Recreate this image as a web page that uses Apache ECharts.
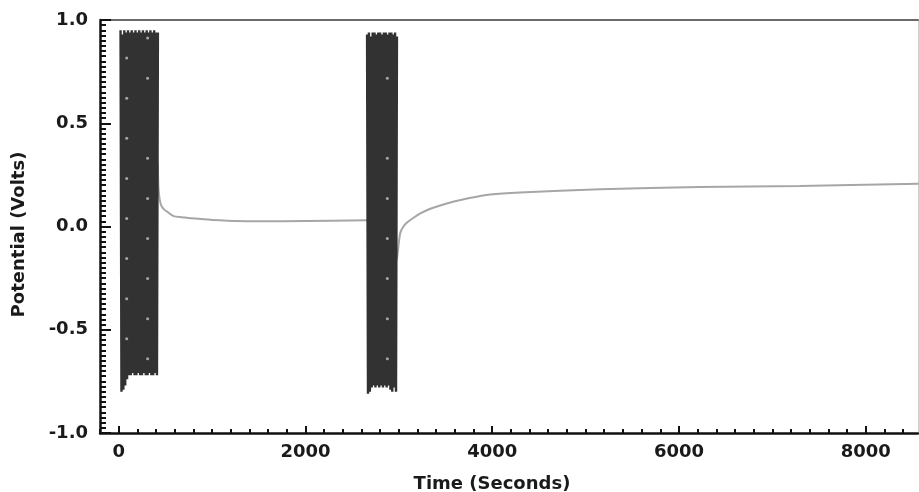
<!DOCTYPE html>
<html>
<head>
<meta charset="utf-8">
<script src="https://cdn.jsdelivr.net/npm/echarts@6/dist/echarts.min.js"></script>
<style>
  html, body { margin: 0; padding: 0; background: #fff; }
  #chart { width: 919px; height: 492px; }
</style>
</head>
<body>
<div id="chart"></div>
<script>
// Potential vs. time: two fast cycling bursts followed by relaxation to open-circuit potential.

// First cycling burst (seconds, volts)
const burst1Time = [20, 30, 40, 50, 60, 70, 80, 90, 100, 110, 120, 130, 140, 150, 160, 170, 180, 190, 200, 210,
  220, 230, 240, 250, 260, 270, 280, 290, 300, 310, 320, 330, 340, 350, 360, 370, 380, 390, 400, 410, 420];
const burst1Volt = [0.95, -0.80, 0.93, -0.79, 0.95, -0.77, 0.94, -0.74, 0.95, -0.72, 0.94, -0.72, 0.95, -0.71,
  0.94, -0.72, 0.95, -0.72, 0.94, -0.71, 0.95, -0.72, 0.94, -0.72, 0.95, -0.71, 0.94, -0.72, 0.95, -0.72,
  0.94, -0.71, 0.95, -0.72, 0.94, -0.72, 0.95, -0.71, 0.94, -0.72, 0.94];

// Second cycling burst
const burst2Time = [2660, 2670, 2680, 2690, 2700, 2710, 2720, 2730, 2740, 2750, 2760, 2770, 2780, 2790, 2800,
  2810, 2820, 2830, 2840, 2850, 2860, 2870, 2880, 2890, 2900, 2910, 2920, 2930, 2940, 2950, 2960, 2970, 2980];
const burst2Volt = [0.93, -0.81, 0.94, -0.80, 0.92, -0.78, 0.94, -0.77, 0.94, -0.78, 0.93, -0.77, 0.94, -0.78,
  0.94, -0.77, 0.93, -0.78, 0.94, -0.77, 0.94, -0.78, 0.93, -0.77, 0.94, -0.79, 0.94, -0.80, 0.93, -0.78,
  0.94, -0.80, 0.92];

// Relaxation after the first burst
const rest1Time = [420, 428, 449, 480, 524, 588, 680, 770, 1000, 1519, 2000, 2660];
const rest1Volt = [0.30, 0.175, 0.11, 0.085, 0.07, 0.05, 0.045, 0.04, 0.032, 0.025, 0.027, 0.03];

// Relaxation after the second burst
const rest2Time = [2980, 2990, 3016, 3050, 3091, 3150, 3230, 3330, 3444, 3580, 3733, 3979, 4299, 5155, 6225, 7294, 8567];
const rest2Volt = [-0.16, -0.12, -0.03, 0.0, 0.02, 0.04, 0.063, 0.085, 0.102, 0.12, 0.136, 0.155, 0.165, 0.18, 0.191, 0.196, 0.207];

// Light sample markers inside the bursts
const dotTime = [86, 86, 86, 86, 86, 86, 86, 86,
  310, 310, 310, 310, 310, 310, 310, 310,
  2877, 2877, 2877, 2877, 2877, 2877, 2877];
const dotVolt = [0.816, 0.621, 0.427, 0.233, 0.039, -0.155, -0.35, -0.544,
  0.913, 0.718, 0.33, 0.136, -0.058, -0.252, -0.447, -0.641,
  0.718, 0.33, 0.136, -0.058, -0.252, -0.447, -0.641];

// Axis ticks
const xMajorTicks = [0, 2000, 4000, 6000, 8000];
const xMin = -200, xMax = 8560;
const xMinorTicks = [];
for (let v = xMin; v <= xMax; v += 200) xMinorTicks.push(v);
const yMinorTicks = [];
for (let k = -40; k <= 40; k++) yMinorTicks.push(k * 0.025);

const zip = (a, b) => a.map((v, i) => [v, b[i]]);

const font = 'DejaVu Sans';
const ink = '#1a1a1a';

const chart = echarts.init(document.getElementById('chart'));
chart.setOption({
  animation: false,
  backgroundColor: '#fff',
  grid: { left: 100, top: 20, right: 1, bottom: 59, outerBoundsMode: 'none', containLabel: false },
  xAxis: [
    {
      type: 'value', min: xMin, max: xMax, position: 'bottom',
      name: 'Time (Seconds)', nameLocation: 'middle', nameGap: 42,
      nameTextStyle: { fontFamily: font, fontWeight: 'bold', fontSize: 18, color: ink, padding: [0, 34, 0, 0] },
      axisLine: { show: true, onZero: false, lineStyle: { color: '#111', width: 2.5 } },
      axisTick: { show: true, inside: true, length: 7, customValues: xMajorTicks, lineStyle: { color: '#111', width: 2 } },
      axisLabel: {
        customValues: xMajorTicks, margin: 10, fontFamily: font, fontWeight: 'bold', fontSize: 18, color: ink,
        formatter: v => String(v)
      },
      splitLine: { show: false }
    },
    {
      type: 'value', min: xMin, max: xMax, position: 'bottom',
      axisLine: { show: false, onZero: false },
      axisTick: { show: true, inside: true, length: 4, customValues: xMinorTicks, lineStyle: { color: '#111', width: 2 } },
      axisLabel: { show: false },
      splitLine: { show: false }
    },
    {
      type: 'value', min: xMin, max: xMax, position: 'top',
      axisLine: { show: true, onZero: false, lineStyle: { color: '#6a6a6a', width: 2 } },
      axisTick: { show: false }, axisLabel: { show: false }, splitLine: { show: false }
    }
  ],
  yAxis: [
    {
      type: 'value', min: -1, max: 1, interval: 0.5, position: 'left',
      name: 'Potential (Volts)', nameLocation: 'middle', nameGap: 72,
      nameTextStyle: { fontFamily: font, fontWeight: 'bold', fontSize: 18, color: ink, padding: [0, 16, 0, 0] },
      axisLine: { show: true, onZero: false, lineStyle: { color: '#111', width: 2.5 } },
      axisTick: { show: true, inside: true, length: 11, lineStyle: { color: '#111', width: 2 } },
      axisLabel: {
        margin: 12, fontFamily: font, fontWeight: 'bold', fontSize: 18, color: ink,
        formatter: v => v.toFixed(1)
      },
      splitLine: { show: false }
    },
    {
      type: 'value', min: -1, max: 1, position: 'left',
      axisLine: { show: false, onZero: false },
      axisTick: { show: true, inside: true, length: 6, customValues: yMinorTicks, lineStyle: { color: '#111', width: 2 } },
      axisLabel: { show: false }, splitLine: { show: false }
    },
    {
      type: 'value', min: -1, max: 1, position: 'right',
      axisLine: { show: true, onZero: false, lineStyle: { color: '#d0d0d0', width: 1 } },
      axisTick: { show: false }, axisLabel: { show: false }, splitLine: { show: false }
    }
  ],
  series: [
    {
      type: 'line', data: zip(rest1Time, rest1Volt), smooth: 0.3, symbol: 'none', z: 2,
      lineStyle: { color: '#a6a6a6', width: 2 }
    },
    {
      type: 'line', data: zip(rest2Time, rest2Volt), smooth: 0.3, symbol: 'none', z: 2,
      lineStyle: { color: '#a6a6a6', width: 2 }
    },
    {
      type: 'line', data: zip(burst1Time, burst1Volt), symbol: 'none', z: 3,
      lineStyle: { color: '#323232', width: 2.4 }
    },
    {
      type: 'line', data: zip(burst2Time, burst2Volt), symbol: 'none', z: 3,
      lineStyle: { color: '#323232', width: 2.4 }
    },
    {
      type: 'scatter', data: zip(dotTime, dotVolt), symbol: 'circle', symbolSize: 3, z: 4,
      itemStyle: { color: '#c4c4c4' }
    }
  ]
});
</script>
</body>
</html>
